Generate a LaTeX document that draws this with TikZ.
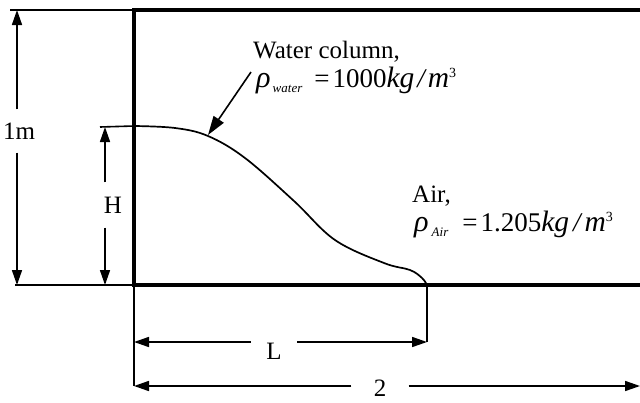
\documentclass[tikz,border=0pt]{standalone}
\usepackage{fontspec}
\setmainfont{Liberation Serif}
\usetikzlibrary{arrows.meta}
\newcommand{\subtxt}[1]{\raisebox{-5pt}{\fontsize{13}{13}\selectfont\itshape #1}}
\newcommand{\suptxt}[1]{\raisebox{10pt}{\fontsize{14}{14}\selectfont #1}}
\newcommand{\rhoit}{\scalebox{1.12}{\itshape ρ}}
\newcommand{\wideit}[1]{{\fontsize{29.5}{31}\selectfont\itshape #1}}
\begin{document}
\begin{tikzpicture}[x=1pt,y=-1pt,
  wall/.style={line width=3.2pt},
  dimline/.style={line width=1.6pt},
  dimarrow/.style={line width=1.6pt,-{Triangle[length=15pt,width=10pt]}},
  pointer/.style={line width=1.6pt,-{Triangle[length=19pt,width=12pt]}},
  freesurf/.style={line width=1.7pt},
  txt/.style={inner sep=0pt,font=\fontsize{25}{29}\selectfont},
  mathtxt/.style={inner sep=0pt,font=\fontsize{27}{31}\selectfont},
  gap/.style={txt,minimum width=#1}]
\useasboundingbox (0,0) rectangle (640,402);
% key points
\coordinate (TL) at (134,10);
\coordinate (TR) at (640,10);
\coordinate (BL) at (134,285);
\coordinate (BR) at (640,285);
\coordinate (Ltop) at (10,10);
\coordinate (Lbot) at (15,285);
\coordinate (Htop) at (100,127);
\coordinate (C0) at (134,126);
\coordinate (Cend) at (427,285);
\coordinate (Lleft) at (134,342);
\coordinate (Lright) at (427,342);
\coordinate (Tleft) at (134,386);
\coordinate (Tright) at (640,386);
\coordinate (Marr) at (17,285);
\coordinate (Harr) at (105,285);
\coordinate (Wstart) at (251,72);
\coordinate (Wtip) at (208,135);
% tank walls
\draw[wall] (TR) -- (TL) -- (BL) -- (BR);
% extension lines
\draw[dimline] (Ltop) -- (TL);
\draw[dimline] (Lbot) -- (BL);
\draw[dimline] (Htop) -- (C0);
\draw[dimline] (BL) -- (Tleft);
\draw[dimline] (Cend) -- (Lright);
% free surface
\draw[freesurf] plot[smooth,tension=0.6] coordinates {(C0) (175,128) (208,136) (245,158) (294,201) (335,240) (384,263) (410,270) (422,278) (Cend)};
% 1m
\node[txt,minimum height=43pt] (m1) at (19,131) {1m};
\draw[dimarrow] (Marr |- m1.north) -- (Marr |- TL);
\draw[dimarrow] (Marr |- m1.south) -- (Marr);
% H
\node[txt,minimum height=45pt] (hl) at (113,205) {H};
\draw[dimarrow] (Harr |- hl.north) -- (Harr |- Htop);
\draw[dimarrow] (Harr |- hl.south) -- (Harr);
% L
\node[gap=46pt] (lt) at (274,351) {L};
\draw[dimarrow] (lt.west |- Lleft) -- (Lleft);
\draw[dimarrow] (lt.east |- Lleft) -- (Lright);
% 2
\node[gap=57pt] (tt) at (380,388) {2};
\draw[dimarrow] (tt.west |- Tleft) -- (Tleft);
\draw[dimarrow] (tt.east |- Tleft) -- (Tright);
% labels
\node[txt,anchor=base west] (wc) at (253,58) {Water column,};
\node[mathtxt,anchor=base west] (wr) at (256,87) {\rhoit\hspace{2pt}\subtxt{water}\hspace{12pt}=\hspace{3pt}1000\wideit{kg}\hspace{3pt}{\itshape /}\hspace{3pt}\wideit{m}\suptxt{3}};
\node[txt,anchor=base west] (air) at (412,202) {Air,};
\node[mathtxt,anchor=base west] (ar) at (414,231) {\rhoit\hspace{3pt}\subtxt{Air}\hspace{14pt}=\hspace{3pt}1.205\wideit{kg}\hspace{4pt}{\itshape /}\hspace{4pt}\wideit{m}\suptxt{3}};
\draw[pointer] (Wstart) -- (Wtip);
\end{tikzpicture}
\end{document}
